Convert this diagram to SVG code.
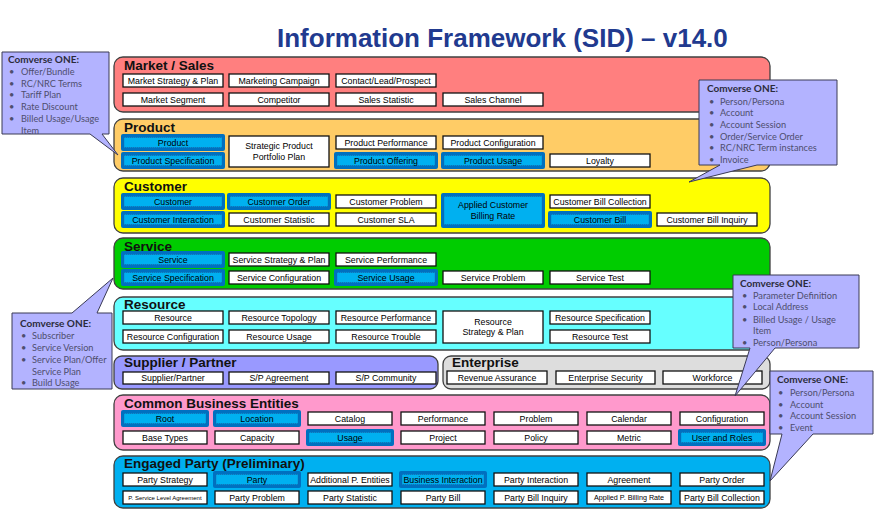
<svg xmlns="http://www.w3.org/2000/svg" width="874" height="511" viewBox="0 0 874 511">
<style>
.layer{stroke:#404040;stroke-width:1.3}
.lbl{font-family:"Liberation Sans",Arial,sans-serif;font-weight:bold;font-size:13.5px;fill:#111}
.bx{fill:#fff;stroke:#111;stroke-width:1.3}
.t{font-family:"Liberation Sans",Arial,sans-serif;font-size:8.8px;text-anchor:middle;fill:#000}
.ho{fill:#0070C0}
.hi{fill:#00B0F0;stroke:#1F5FA0;stroke-width:0.6;stroke-dasharray:1 1}
.co{fill:#B3B3FF;stroke:#3A3A55;stroke-width:1}
.ct{font-family:Lato,"Open Sans",sans-serif;font-weight:bold;font-size:10px;fill:#2B2B3B}
.ci{font-family:Lato,"Open Sans",sans-serif;font-size:9.2px;fill:#4E4E6E}
</style>
<rect width="874" height="511" fill="#fff"/>
<text x="277" y="47" font-family="'Liberation Sans',Arial,sans-serif" font-weight="bold" font-size="26" fill="#213A8F">Information Framework (SID) – v14.0</text>

<g id="layer-market-sales">
<rect class="layer" x="114" y="57" width="656" height="55" rx="9" fill="#FF7F7F"/>
<text class="lbl" x="124" y="69.5">Market / Sales</text>
<g id="market-strategy-plan"><rect class="bx" x="123" y="74" width="100" height="13"/><text class="t" x="173" y="83.7">Market Strategy &amp; Plan</text></g>
<g id="marketing-campaign"><rect class="bx" x="229" y="74" width="100" height="13"/><text class="t" x="279" y="83.7">Marketing Campaign</text></g>
<g id="contact-lead-prospect"><rect class="bx" x="336" y="74" width="100" height="13"/><text class="t" x="386" y="83.7">Contact/Lead/Prospect</text></g>
<g id="market-segment"><rect class="bx" x="123" y="93" width="100" height="13"/><text class="t" x="173" y="102.7">Market Segment</text></g>
<g id="competitor"><rect class="bx" x="229" y="93" width="100" height="13"/><text class="t" x="279" y="102.7">Competitor</text></g>
<g id="sales-statistic"><rect class="bx" x="336" y="93" width="100" height="13"/><text class="t" x="386" y="102.7">Sales Statistic</text></g>
<g id="sales-channel"><rect class="bx" x="443" y="93" width="100" height="13"/><text class="t" x="493" y="102.7">Sales Channel</text></g>
</g>

<g id="layer-product">
<rect class="layer" x="114" y="119" width="656" height="52" rx="9" fill="#FFCC66"/>
<text class="lbl" x="124" y="131.5">Product</text>
<g id="product"><rect class="ho" x="121" y="134" width="104" height="17" rx="2"/><rect class="hi" x="124" y="137.5" width="98" height="10"/><text class="t" x="173" y="145.7">Product</text></g>
<g id="product-specification"><rect class="ho" x="121" y="152" width="104" height="17" rx="2"/><rect class="hi" x="124" y="155.5" width="98" height="10"/><text class="t" x="173" y="163.7">Product Specification</text></g>
<g id="strategic-product-portfolio-plan"><rect class="bx" x="229" y="136" width="100" height="31"/><text class="t" x="279" y="148.5">Strategic Product</text><text class="t" x="279" y="159.5">Portfolio Plan</text></g>
<g id="product-performance"><rect class="bx" x="336" y="136" width="100" height="13"/><text class="t" x="386" y="145.7">Product Performance</text></g>
<g id="product-offering"><rect class="ho" x="334" y="152" width="104" height="17" rx="2"/><rect class="hi" x="337" y="155.5" width="98" height="10"/><text class="t" x="386" y="163.7">Product Offering</text></g>
<g id="product-configuration"><rect class="bx" x="443" y="136" width="100" height="13"/><text class="t" x="493" y="145.7">Product Configuration</text></g>
<g id="product-usage"><rect class="ho" x="441" y="152" width="104" height="17" rx="2"/><rect class="hi" x="444" y="155.5" width="98" height="10"/><text class="t" x="493" y="163.7">Product Usage</text></g>
<g id="loyalty"><rect class="bx" x="550" y="154" width="100" height="13"/><text class="t" x="600" y="163.7">Loyalty</text></g>
</g>

<g id="layer-customer">
<rect class="layer" x="114" y="178" width="656" height="55" rx="9" fill="#FFFF00"/>
<text class="lbl" x="124" y="190.5">Customer</text>
<g id="customer"><rect class="ho" x="121" y="193" width="104" height="17" rx="2"/><rect class="hi" x="124" y="196.5" width="98" height="10"/><text class="t" x="173" y="204.7">Customer</text></g>
<g id="customer-order"><rect class="ho" x="227" y="193" width="104" height="17" rx="2"/><rect class="hi" x="230" y="196.5" width="98" height="10"/><text class="t" x="279" y="204.7">Customer Order</text></g>
<g id="customer-problem"><rect class="bx" x="336" y="195" width="100" height="13"/><text class="t" x="386" y="204.7">Customer Problem</text></g>
<g id="applied-customer-billing-rate"><rect class="ho" x="441" y="193" width="104" height="35" rx="2"/><rect class="hi" x="444" y="196.5" width="98" height="28"/><text class="t" x="493" y="207.5">Applied Customer</text><text class="t" x="493" y="218.5">Billing Rate</text></g>
<g id="customer-bill-collection"><rect class="bx" x="550" y="195" width="100" height="13"/><text class="t" x="600" y="204.7">Customer Bill Collection</text></g>
<g id="customer-interaction"><rect class="ho" x="121" y="211" width="104" height="17" rx="2"/><rect class="hi" x="124" y="214.5" width="98" height="10"/><text class="t" x="173" y="222.7">Customer Interaction</text></g>
<g id="customer-statistic"><rect class="bx" x="229" y="213" width="100" height="13"/><text class="t" x="279" y="222.7">Customer Statistic</text></g>
<g id="customer-sla"><rect class="bx" x="336" y="213" width="100" height="13"/><text class="t" x="386" y="222.7">Customer SLA</text></g>
<g id="customer-bill"><rect class="ho" x="548" y="211" width="104" height="17" rx="2"/><rect class="hi" x="551" y="214.5" width="98" height="10"/><text class="t" x="600" y="222.7">Customer Bill</text></g>
<g id="customer-bill-inquiry"><rect class="bx" x="657" y="213" width="100" height="13"/><text class="t" x="707" y="222.7">Customer Bill Inquiry</text></g>
</g>

<g id="layer-service">
<rect class="layer" x="114" y="238" width="656" height="51" rx="9" fill="#00CC00"/>
<text class="lbl" x="124" y="250.5">Service</text>
<g id="service"><rect class="ho" x="121" y="251" width="104" height="17" rx="2"/><rect class="hi" x="124" y="254.5" width="98" height="10"/><text class="t" x="173" y="262.7">Service</text></g>
<g id="service-strategy-plan"><rect class="bx" x="229" y="253" width="100" height="13"/><text class="t" x="279" y="262.7">Service Strategy &amp; Plan</text></g>
<g id="service-performance"><rect class="bx" x="336" y="253" width="100" height="13"/><text class="t" x="386" y="262.7">Service Performance</text></g>
<g id="service-specification"><rect class="ho" x="121" y="269" width="104" height="17" rx="2"/><rect class="hi" x="124" y="272.5" width="98" height="10"/><text class="t" x="173" y="280.7">Service Specification</text></g>
<g id="service-configuration"><rect class="bx" x="229" y="271" width="100" height="13"/><text class="t" x="279" y="280.7">Service Configuration</text></g>
<g id="service-usage"><rect class="ho" x="334" y="269" width="104" height="17" rx="2"/><rect class="hi" x="337" y="272.5" width="98" height="10"/><text class="t" x="386" y="280.7">Service Usage</text></g>
<g id="service-problem"><rect class="bx" x="443" y="271" width="100" height="13"/><text class="t" x="493" y="280.7">Service Problem</text></g>
<g id="service-test"><rect class="bx" x="550" y="271" width="100" height="13"/><text class="t" x="600" y="280.7">Service Test</text></g>
</g>

<g id="layer-resource">
<rect class="layer" x="114" y="297" width="656" height="53" rx="9" fill="#66FFFF"/>
<text class="lbl" x="124" y="308.5">Resource</text>
<g id="resource"><rect class="bx" x="123" y="311" width="100" height="13"/><text class="t" x="173" y="320.7">Resource</text></g>
<g id="resource-topology"><rect class="bx" x="229" y="311" width="100" height="13"/><text class="t" x="279" y="320.7">Resource Topology</text></g>
<g id="resource-performance"><rect class="bx" x="336" y="311" width="100" height="13"/><text class="t" x="386" y="320.7">Resource Performance</text></g>
<g id="resource-strategy-plan"><rect class="bx" x="443" y="311" width="100" height="32"/><text class="t" x="493" y="324.5">Resource</text><text class="t" x="493" y="335">Strategy &amp; Plan</text></g>
<g id="resource-specification"><rect class="bx" x="550" y="311" width="100" height="13"/><text class="t" x="600" y="320.7">Resource Specification</text></g>
<g id="resource-configuration"><rect class="bx" x="123" y="330" width="100" height="13"/><text class="t" x="173" y="339.7">Resource Configuration</text></g>
<g id="resource-usage"><rect class="bx" x="229" y="330" width="100" height="13"/><text class="t" x="279" y="339.7">Resource Usage</text></g>
<g id="resource-trouble"><rect class="bx" x="336" y="330" width="100" height="13"/><text class="t" x="386" y="339.7">Resource Trouble</text></g>
<g id="resource-test"><rect class="bx" x="550" y="330" width="100" height="13"/><text class="t" x="600" y="339.7">Resource Test</text></g>
</g>

<g id="layer-supplier-partner">
<rect class="layer" x="114" y="356" width="324" height="33" rx="8" fill="#9999FF"/>
<text class="lbl" x="124" y="367">Supplier / Partner</text>
<g id="supplier-partner"><rect class="bx" x="123" y="372" width="100" height="12"/><text class="t" x="173" y="381.3">Supplier/Partner</text></g>
<g id="sp-agreement"><rect class="bx" x="229" y="372" width="100" height="12"/><text class="t" x="279" y="381.3">S/P Agreement</text></g>
<g id="sp-community"><rect class="bx" x="336" y="372" width="100" height="12"/><text class="t" x="386" y="381.3">S/P Community</text></g>
</g>

<g id="layer-enterprise">
<rect class="layer" x="443" y="356" width="327" height="33" rx="8" fill="#DDDDDD"/>
<text class="lbl" x="452" y="366.5">Enterprise</text>
<g id="revenue-assurance"><rect class="bx" x="447" y="371" width="100" height="13"/><text class="t" x="497" y="380.7">Revenue Assurance</text></g>
<g id="enterprise-security"><rect class="bx" x="556" y="371" width="99" height="13"/><text class="t" x="605.5" y="380.7">Enterprise Security</text></g>
<g id="workforce"><rect class="bx" x="663" y="371" width="99" height="13"/><text class="t" x="712.5" y="380.7">Workforce</text></g>
</g>

<g id="layer-common-business-entities">
<rect class="layer" x="114" y="395" width="656" height="55" rx="9" fill="#FF99CC"/>
<text class="lbl" x="124" y="408">Common Business Entities</text>
<g id="root"><rect class="ho" x="121" y="410" width="88" height="17" rx="2"/><rect class="hi" x="124" y="413.5" width="82" height="10"/><text class="t" x="165" y="421.7">Root</text></g>
<g id="location"><rect class="ho" x="213" y="410" width="88" height="17" rx="2"/><rect class="hi" x="216" y="413.5" width="82" height="10"/><text class="t" x="257" y="421.7">Location</text></g>
<g id="catalog"><rect class="bx" x="308" y="412" width="84" height="13"/><text class="t" x="350" y="421.7">Catalog</text></g>
<g id="performance"><rect class="bx" x="401" y="412" width="84" height="13"/><text class="t" x="443" y="421.7">Performance</text></g>
<g id="problem"><rect class="bx" x="494" y="412" width="84" height="13"/><text class="t" x="536" y="421.7">Problem</text></g>
<g id="calendar"><rect class="bx" x="587" y="412" width="84" height="13"/><text class="t" x="629" y="421.7">Calendar</text></g>
<g id="configuration"><rect class="bx" x="680" y="412" width="84" height="13"/><text class="t" x="722" y="421.7">Configuration</text></g>
<g id="base-types"><rect class="bx" x="123" y="431" width="84" height="13"/><text class="t" x="165" y="440.7">Base Types</text></g>
<g id="capacity"><rect class="bx" x="215" y="431" width="84" height="13"/><text class="t" x="257" y="440.7">Capacity</text></g>
<g id="usage"><rect class="ho" x="306" y="429" width="88" height="17" rx="2"/><rect class="hi" x="309" y="432.5" width="82" height="10"/><text class="t" x="350" y="440.7">Usage</text></g>
<g id="project"><rect class="bx" x="401" y="431" width="84" height="13"/><text class="t" x="443" y="440.7">Project</text></g>
<g id="policy"><rect class="bx" x="494" y="431" width="84" height="13"/><text class="t" x="536" y="440.7">Policy</text></g>
<g id="metric"><rect class="bx" x="587" y="431" width="84" height="13"/><text class="t" x="629" y="440.7">Metric</text></g>
<g id="user-and-roles"><rect class="ho" x="678" y="429" width="88" height="17" rx="2"/><rect class="hi" x="681" y="432.5" width="82" height="10"/><text class="t" x="722" y="440.7">User and Roles</text></g>
</g>

<g id="layer-engaged-party">
<rect class="layer" x="114" y="456" width="656" height="52" rx="9" fill="#00B0F0"/>
<text class="lbl" x="124" y="468">Engaged Party (Preliminary)</text>
<g id="party-strategy"><rect class="bx" x="123" y="473" width="84" height="13"/><text class="t" x="165" y="482.7">Party Strategy</text></g>
<g id="party"><rect class="ho" x="213" y="471" width="88" height="17" rx="2"/><rect class="hi" x="216" y="474.5" width="82" height="10"/><text class="t" x="257" y="482.7">Party</text></g>
<g id="additional-p-entities"><rect class="bx" x="308" y="473" width="84" height="13"/><text class="t" x="350" y="482.7">Additional P. Entities</text></g>
<g id="business-interaction"><rect class="ho" x="399" y="471" width="88" height="17" rx="2"/><rect class="hi" x="402" y="474.5" width="82" height="10"/><text class="t" x="443" y="482.7">Business Interaction</text></g>
<g id="party-interaction"><rect class="bx" x="494" y="473" width="84" height="13"/><text class="t" x="536" y="482.7">Party Interaction</text></g>
<g id="agreement"><rect class="bx" x="587" y="473" width="84" height="13"/><text class="t" x="629" y="482.7">Agreement</text></g>
<g id="party-order"><rect class="bx" x="680" y="473" width="84" height="13"/><text class="t" x="722" y="482.7">Party Order</text></g>
<g id="p-service-level-agreement"><rect class="bx" x="123" y="491" width="84" height="13"/><text class="t" x="165" y="499.7" style="font-size:6px">P. Service Level Agreement</text></g>
<g id="party-problem"><rect class="bx" x="215" y="491" width="84" height="13"/><text class="t" x="257" y="500.7">Party Problem</text></g>
<g id="party-statistic"><rect class="bx" x="308" y="491" width="84" height="13"/><text class="t" x="350" y="500.7">Party Statistic</text></g>
<g id="party-bill"><rect class="bx" x="401" y="491" width="84" height="13"/><text class="t" x="443" y="500.7">Party Bill</text></g>
<g id="party-bill-inquiry"><rect class="bx" x="494" y="491" width="84" height="13"/><text class="t" x="536" y="500.7">Party Bill Inquiry</text></g>
<g id="applied-p-billing-rate"><rect class="bx" x="587" y="491" width="84" height="13"/><text class="t" x="629" y="500.3" style="font-size:7.2px">Applied P. Billing Rate</text></g>
<g id="party-bill-collection"><rect class="bx" x="680" y="491" width="84" height="13"/><text class="t" x="722" y="500.7">Party Bill Collection</text></g>
</g>

<g id="connectors"></g>

<g id="callout-product">
<path class="co" d="M2,52 H109 V134 H102 L118,155 L90,134 H2 Z"/>
<text class="ct" x="8" y="63">Comverse ONE:</text>
<text class="ci" x="9" y="75">•</text><text class="ci" x="21" y="75">Offer/Bundle</text>
<text class="ci" x="9" y="86.5">•</text><text class="ci" x="21" y="86.5">RC/NRC Terms</text>
<text class="ci" x="9" y="98">•</text><text class="ci" x="21" y="98">Tariff Plan</text>
<text class="ci" x="9" y="110">•</text><text class="ci" x="21" y="110">Rate Discount</text>
<text class="ci" x="9" y="122">•</text><text class="ci" x="21" y="122">Billed Usage/Usage</text>
<text class="ci" x="21" y="133.5">Item</text>
</g>

<g id="callout-customer">
<path class="co" d="M699,80 H837 V165 H757 L689,182 L720,165 H699 Z"/>
<text class="ct" x="707" y="91.5">Comverse ONE:</text>
<text class="ci" x="709" y="104.5">•</text><text class="ci" x="720" y="104.5">Person/Persona</text>
<text class="ci" x="709" y="116">•</text><text class="ci" x="720" y="116">Account</text>
<text class="ci" x="709" y="128">•</text><text class="ci" x="720" y="128">Account Session</text>
<text class="ci" x="709" y="139.5">•</text><text class="ci" x="720" y="139.5">Order/Service Order</text>
<text class="ci" x="709" y="151">•</text><text class="ci" x="720" y="151">RC/NRC Term instances</text>
<text class="ci" x="709" y="163">•</text><text class="ci" x="720" y="163">Invoice</text>
</g>

<g id="callout-service">
<path class="co" d="M12,313 H72 L113,278 L97,313 H112 V389 H12 Z"/>
<text class="ct" x="20" y="327">Comverse ONE:</text>
<text class="ci" x="21" y="339">•</text><text class="ci" x="32" y="339">Subscriber</text>
<text class="ci" x="21" y="351">•</text><text class="ci" x="32" y="351">Service Version</text>
<text class="ci" x="21" y="363">•</text><text class="ci" x="32" y="363">Service Plan/Offer</text>
<text class="ci" x="32" y="374.5">Service Plan</text>
<text class="ci" x="21" y="386">•</text><text class="ci" x="32" y="386">Build Usage</text>
</g>

<g id="callout-common-business-entities">
<path class="co" d="M733,275 H859 V348 H775 L735,396 L750,348 H733 Z"/>
<text class="ct" x="740" y="286.5">Comverse ONE:</text>
<text class="ci" x="742" y="298.5">•</text><text class="ci" x="753" y="298.5">Parameter Definition</text>
<text class="ci" x="742" y="310">•</text><text class="ci" x="753" y="310">Local Address</text>
<text class="ci" x="742" y="322.5">•</text><text class="ci" x="753" y="322.5">Billed Usage / Usage</text>
<text class="ci" x="753" y="334">Item</text>
<text class="ci" x="742" y="346">•</text><text class="ci" x="753" y="346">Person/Persona</text>
</g>

<g id="callout-engaged-party">
<path class="co" d="M770,371 H873 V434 H813 L770,481 L782,434 H770 Z"/>
<text class="ct" x="777" y="383">Comverse ONE:</text>
<text class="ci" x="778" y="396">•</text><text class="ci" x="790" y="396">Person/Persona</text>
<text class="ci" x="778" y="407.5">•</text><text class="ci" x="790" y="407.5">Account</text>
<text class="ci" x="778" y="419">•</text><text class="ci" x="790" y="419">Account Session</text>
<text class="ci" x="778" y="431">•</text><text class="ci" x="790" y="431">Event</text>
</g>
</svg>
